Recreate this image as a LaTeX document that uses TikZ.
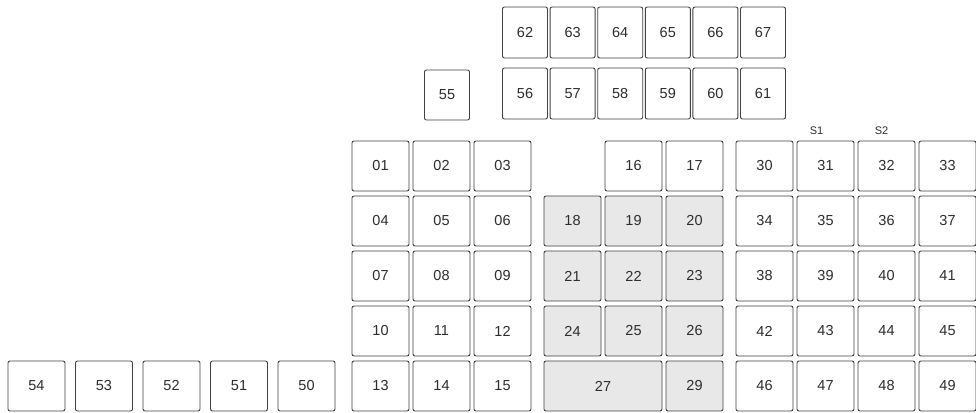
\documentclass[tikz,border=0pt]{standalone}
\usepackage{fontspec}
\setmainfont{Liberation Sans}
\usepackage{tikz}
\usetikzlibrary{positioning}
\definecolor{keyedge}{RGB}{65,65,65}
\definecolor{keytext}{RGB}{45,45,45}
\definecolor{keygrey}{RGB}{232,232,232}

\begin{document}
\begin{tikzpicture}[x=1pt, y=-1pt,
    keybox/.style={rectangle, draw=keyedge, line width=0.9pt, fill=white,
        minimum width=57pt, minimum height=50pt, inner sep=0pt, outer sep=0pt,
        font=\fontsize{14.5}{16}\selectfont, text=keytext,
        rounded corners=2pt},
    keyshade/.style={keybox, fill=keygrey},
    topkey/.style={keybox, minimum width=45pt, minimum height=51pt},
    slabel/.style={font=\fontsize{11}{13}\selectfont, text=keytext}
]
    \useasboundingbox (0,0) rectangle (976,412);

    % Left block
    \node[keybox] (k01) at (380.5,166) {01};
    \node[keybox, right=4pt of k01] (k02) {02};
    \node[keybox, right=4pt of k02] (k03) {03};
    \node[keybox, below=5pt of k01] (k04) {04};
    \node[keybox, right=4pt of k04] (k05) {05};
    \node[keybox, right=4pt of k05] (k06) {06};
    \node[keybox, below=5pt of k04] (k07) {07};
    \node[keybox, right=4pt of k07] (k08) {08};
    \node[keybox, right=4pt of k08] (k09) {09};
    \node[keybox, below=5pt of k07] (k10) {10};
    \node[keybox, right=4pt of k10] (k11) {11};
    \node[keybox, right=4pt of k11] (k12) {12};
    \node[keybox, below=5pt of k10] (k13) {13};
    \node[keybox, right=4pt of k13] (k14) {14};
    \node[keybox, right=4pt of k14] (k15) {15};

    % Middle block --- shaded keys
    \node[keyshade, right=13pt of k06] (k18) {18};
    \node[keyshade, right=4pt of k18] (k19) {19};
    \node[keyshade, right=4pt of k19] (k20) {20};
    \node[keybox, above=5pt of k19] (k16) {16};
    \node[keybox, above=5pt of k20] (k17) {17};
    \node[keyshade, below=5pt of k18] (k21) {21};
    \node[keyshade, right=4pt of k21] (k22) {22};
    \node[keyshade, right=4pt of k22] (k23) {23};
    \node[keyshade, below=5pt of k21] (k24) {24};
    \node[keyshade, right=4pt of k24] (k25) {25};
    \node[keyshade, right=4pt of k25] (k26) {26};
    \node[keyshade, minimum width=118pt, anchor=north west,
        below right=5pt and 0pt of k24.south west] (k27) {27};
    \node[keyshade, below=5pt of k26] (k29) {29};

    % Right block
    \node[keybox, right=13pt of k17] (k30) {30};
    \node[keybox, right=4pt of k30] (k31) {31};
    \node[keybox, right=4pt of k31] (k32) {32};
    \node[keybox, right=4pt of k32] (k33) {33};
    \node[keybox, below=5pt of k30] (k34) {34};
    \node[keybox, right=4pt of k34] (k35) {35};
    \node[keybox, right=4pt of k35] (k36) {36};
    \node[keybox, right=4pt of k36] (k37) {37};
    \node[keybox, below=5pt of k34] (k38) {38};
    \node[keybox, right=4pt of k38] (k39) {39};
    \node[keybox, right=4pt of k39] (k40) {40};
    \node[keybox, right=4pt of k40] (k41) {41};
    \node[keybox, below=5pt of k38] (k42) {42};
    \node[keybox, right=4pt of k42] (k43) {43};
    \node[keybox, right=4pt of k43] (k44) {44};
    \node[keybox, right=4pt of k44] (k45) {45};
    \node[keybox, below=5pt of k42] (k46) {46};
    \node[keybox, right=4pt of k46] (k47) {47};
    \node[keybox, right=4pt of k47] (k48) {48};
    \node[keybox, right=4pt of k48] (k49) {49};

    \node[slabel, above=3pt of k31, xshift=-9pt] (s1) {S1};
    \node[slabel, above=3pt of k32, xshift=-5pt] (s2) {S2};

    % Bottom left row
    \node[keybox, left=17pt of k13] (k50) {50};
    \node[keybox, left=10.5pt of k50] (k51) {51};
    \node[keybox, left=10.5pt of k51] (k52) {52};
    \node[keybox, left=10.5pt of k52] (k53) {53};
    \node[keybox, left=10.5pt of k53] (k54) {54};

    % Top rows
    \node[topkey] (k56) at (525,93.5) {56};
    \node[topkey, right=2.6pt of k56] (k57) {57};
    \node[topkey, right=2.6pt of k57] (k58) {58};
    \node[topkey, right=2.6pt of k58] (k59) {59};
    \node[topkey, right=2.6pt of k59] (k60) {60};
    \node[topkey, right=2.6pt of k60] (k61) {61};
    \node[topkey, above=10pt of k56] (k62) {62};
    \node[topkey, right=2.6pt of k62] (k63) {63};
    \node[topkey, right=2.6pt of k63] (k64) {64};
    \node[topkey, right=2.6pt of k64] (k65) {65};
    \node[topkey, right=2.6pt of k65] (k66) {66};
    \node[topkey, right=2.6pt of k66] (k67) {67};
    \node[topkey, minimum height=50pt, left=33pt of k56, yshift=-1.5pt] (k55) {55};
\end{tikzpicture}
\end{document}
